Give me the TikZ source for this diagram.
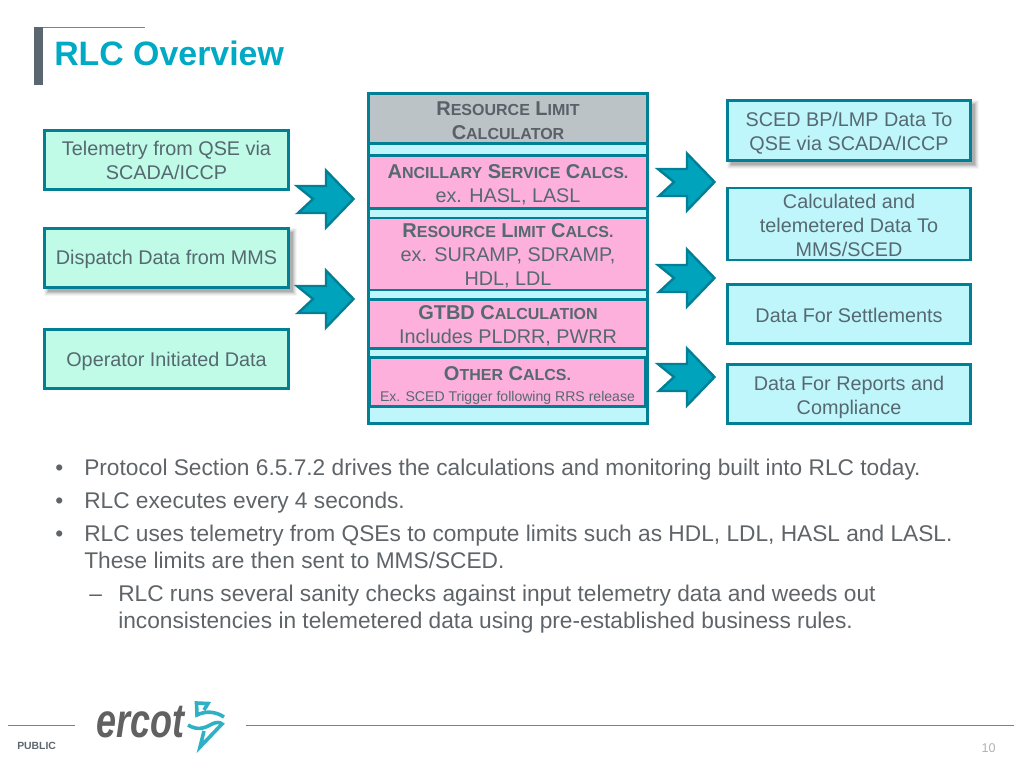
\documentclass[tikz,border=0pt]{standalone}
\usepackage{fontspec}
\setmainfont{Liberation Sans}
\definecolor{edge}{HTML}{007F95}
\definecolor{arrowfill}{HTML}{00A3BC}
\definecolor{mint}{HTML}{BFFBE6}
\definecolor{sky}{HTML}{BFF6FC}
\definecolor{pinkbox}{HTML}{FDB0DC}
\definecolor{greybox}{HTML}{BBC3C6}
\definecolor{inktext}{HTML}{566870}
\definecolor{boldtext}{HTML}{5B6068}
\definecolor{bodytext}{HTML}{5F6468}
\definecolor{titlecol}{HTML}{00A9C4}
\definecolor{slate}{HTML}{5B6770}
\definecolor{bolt}{HTML}{2FB0C4}
\newcommand{\capsm}[2]{{\fontsize{15}{18}\selectfont\bfseries #1}{\fontsize{12}{18}\selectfont\bfseries #2}}
\newcommand{\lowtext}[2]{\raisebox{-#1}[\height][\depth]{\begin{tabular}{@{}c@{}}#2\end{tabular}}}
\newcommand{\softshadow}[4]{%
  \foreach \d/\o in {4/0.04,3/0.05,2/0.07,1/0.09,0/0.11}{%
    \fill[black,opacity=\o] (#1+4-\d,#2+4-\d) rectangle (#3+4+\d,#4+4+\d);}}
\newcommand{\blockarrow}[3]{%
  \draw[flowarrow] (#1-58,#2-13) -- (#1-29,#2-13) -- (#1-29,#2-28.5) -- (#1-1.5,#2) -- (#1-29,#2+28.5) -- (#1-29,#2+14) -- (#1-57,#2+14) -- (#1-42,#2) -- cycle;
  \coordinate (#3) at (#1,#2);}
\tikzset{
  x=0.75pt,y=-0.75pt,
  boxbase/.style={draw=edge,line width=2pt,rectangle,inner sep=0pt,outer sep=0pt,align=center,text=inktext,font=\fontsize{14.85}{18}\selectfont},
  dims/.style 2 args={minimum width=#1*0.75pt,minimum height=#2*0.75pt},
  inbox/.style={boxbase,fill=mint},
  outbox/.style={boxbase,fill=sky},
  calcbox/.style={boxbase,fill=pinkbox},
  headbox/.style={boxbase,fill=greybox,text=boldtext},
  flowarrow/.style={draw=edge,line width=1.8pt,fill=arrowfill,line join=miter},
  bullettext/.style={anchor=base west,inner sep=0pt,text=bodytext,font=\fontsize{17.03}{20}\selectfont},
  boltline/.style={draw=bolt,line width=2.7pt,line join=miter},
}
\begin{document}
\begin{tikzpicture}
\useasboundingbox (0,0) rectangle (1024,768);
% title
\fill[slate] (34,27) rectangle (43,85);
\draw[gray,line width=0.7pt] (43,27) -- (145,27);
\node[anchor=base west,inner sep=0pt,text=titlecol,font=\fontsize{25.4}{30}\selectfont\bfseries] (title) at (54,65) {RLC Overview};
% left boxes
\node[inbox,dims={244}{59}] (tele) at (166.5,160) {\lowtext{2pt}{Telemetry from QSE via\\SCADA/ICCP}};
\softshadow{44}{228}{289}{288}
\node[inbox,dims={244}{59}] (disp) at (166.5,258) {\lowtext{1.2pt}{Dispatch Data from MMS}};
\node[inbox,dims={244}{59}] (oper) at (166.5,359) {\lowtext{1.8pt}{Operator Initiated Data}};
% centre stack
\node[boxbase,fill=sky,dims={279}{330}] (stack) at (508,258.5) {};
\node[headbox,dims={279}{50}] (head) at (508,118.5) {\lowtext{3pt}{\capsm{R}{ESOURCE} \capsm{L}{IMIT}\\\capsm{C}{ALCULATOR}}};
\node[calcbox,dims={279}{53}] (anc) at (508,182) {\lowtext{3.1pt}{\capsm{A}{NCILLARY} \capsm{S}{ERVICE} \capsm{C}{ALCS.}\\ex. HASL, LASL}};
\node[calcbox,dims={279}{67}] (res) at (508,254) {\lowtext{2.3pt}{\capsm{R}{ESOURCE} \capsm{L}{IMIT} \capsm{C}{ALCS.}\\ex. SURAMP, SDRAMP,\\HDL, LDL}};
\node[calcbox,dims={279}{49}] (gtbd) at (508,324) {\lowtext{2pt}{\capsm{GTBD C}{ALCULATION}\\Includes PLDRR, PWRR}};
\node[calcbox,dims={276}{49}] (other) at (507.5,382) {\lowtext{3pt}{\capsm{O}{THER} \capsm{C}{ALCS.}\\[-2.5pt]{\fontsize{10.55}{14}\selectfont Ex. SCED Trigger following RRS release}}};
% right boxes
\softshadow{727}{100}{971}{161}
\node[outbox,dims={243}{60}] (sced) at (849,130.5) {\lowtext{2.3pt}{SCED BP/LMP Data To\\QSE via SCADA/ICCP}};
\node[outbox,dims={243}{71}] (calc) at (849,224) {\lowtext{3pt}{Calculated and\\telemetered Data To\\MMS/SCED}};
\node[outbox,dims={243}{59}] (sett) at (849,314) {\lowtext{2.5pt}{Data For Settlements}};
\node[outbox,dims={243}{59}] (repo) at (849,394) {\lowtext{2.8pt}{Data For Reports and\\Compliance}};
% block arrows
\blockarrow{355}{199}{aone}
\blockarrow{355}{299}{atwo}
\blockarrow{716}{182}{athree}
\blockarrow{716}{278}{afour}
\blockarrow{716}{377}{afive}
% bullets
\node[bullettext] (b1) at (84,475) {Protocol Section 6.5.7.2 drives the calculations and monitoring built into RLC today.};
\node[bullettext] (b2) at (84,508) {RLC executes every 4 seconds.};
\node[bullettext] (b3) at (84,541) {RLC uses telemetry from QSEs to compute limits such as HDL, LDL, HASL and LASL.};
\node[bullettext] (b3b) at (84,568) {These limits are then sent to MMS/SCED.};
\node[bullettext] (b4) at (118,601) {RLC runs several sanity checks against input telemetry data and weeds out};
\node[bullettext] (b4b) at (118,628) {inconsistencies in telemetered data using pre-established business rules.};
\node[bullettext] (m1) at (55,475) {•};
\node[bullettext] (m2) at (55,508) {•};
\node[bullettext] (m3) at (55,541) {•};
\node[bullettext] (m4) at (89,601) {–};
% footer
\draw[gray,line width=0.6pt] (8,725) -- (75,725);
\draw[gray,line width=0.6pt] (246,725) -- (1014,725);
\node[anchor=base west,inner sep=0pt,text=slate,font=\fontsize{7.8}{9}\selectfont\bfseries] (pub) at (17,749) {PUBLIC};
\node[anchor=base east,inner sep=0pt,text=gray!60,font=\fontsize{9.5}{11}\selectfont] (num) at (996,752) {10};
\node[anchor=base west,inner sep=0pt,text=black!62,xscale=0.75,font=\fontsize{36}{40}\selectfont\bfseries\itshape] (logo) at (96,737) {ercot};
\draw[boltline] (204,710) -- (208,703.5) -- (196.5,703) -- (197,715) .. controls (205,711) and (215,711) .. (224,717);
\draw[boltline] (188,725) .. controls (198,731) and (205,728) .. (212,724) .. controls (216,722) and (220,722) .. (222,724) -- (200,747) -- (204,731);
\end{tikzpicture}
\end{document}
